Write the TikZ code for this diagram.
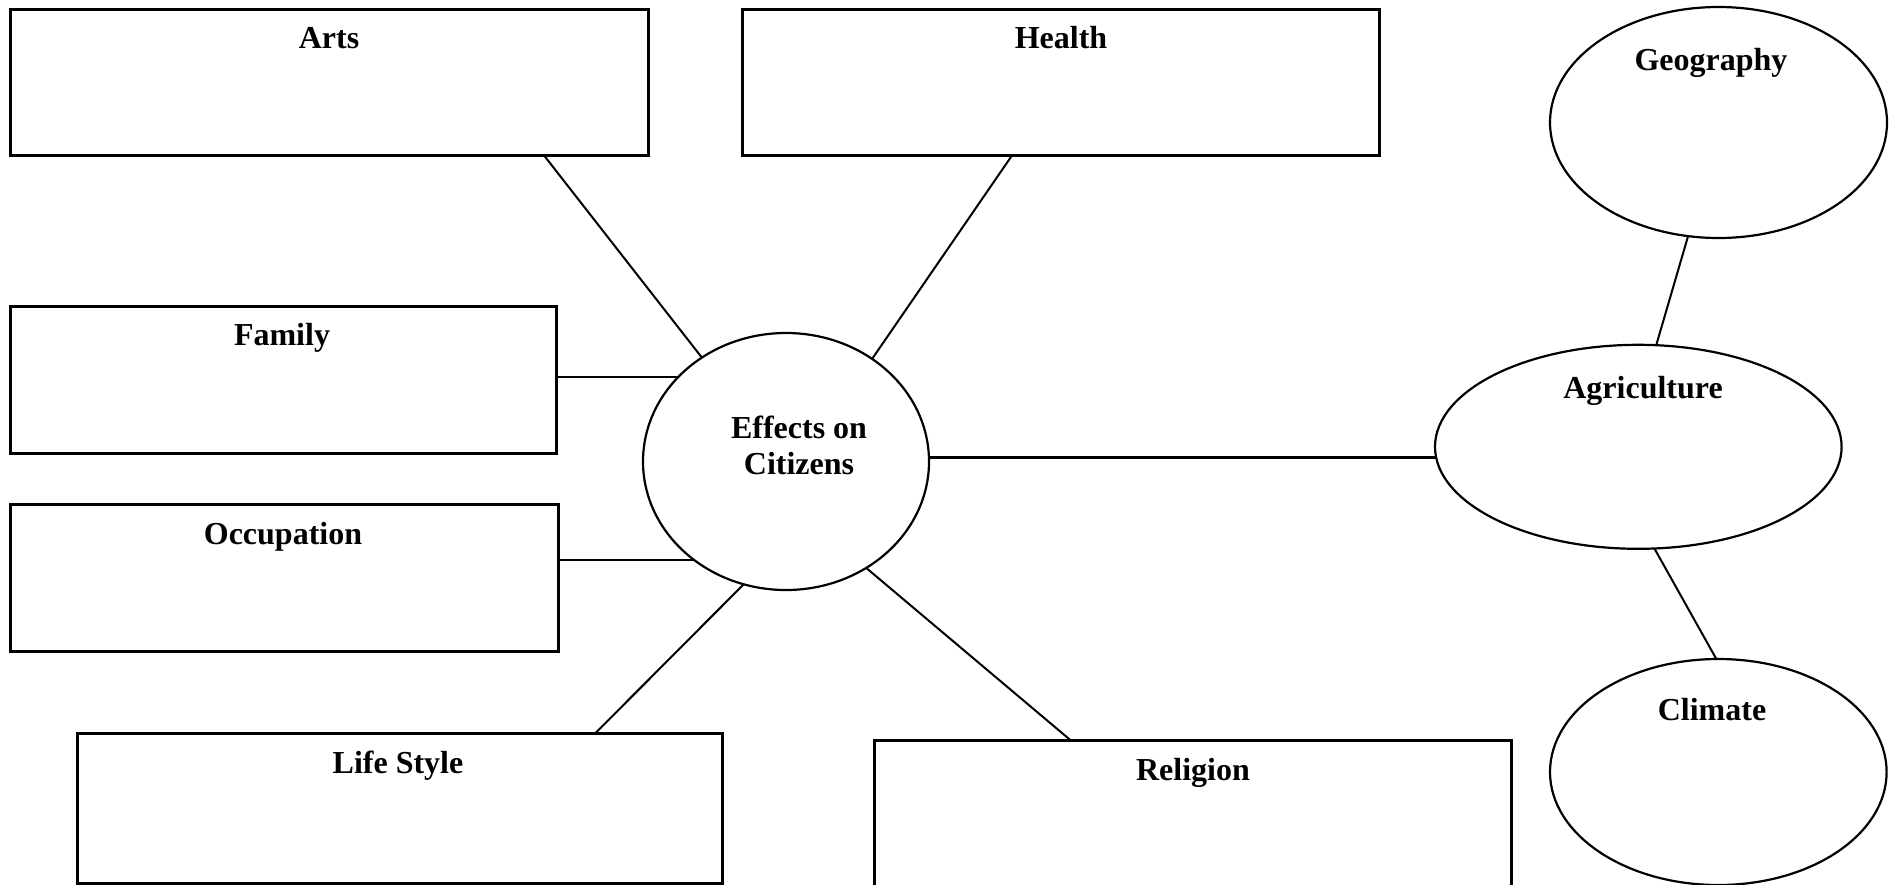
\documentclass[tikz,border=0pt]{standalone}
\usepackage{fontspec}
\setmainfont{Liberation Serif}
\usetikzlibrary{shapes.geometric}
\begin{document}
\begin{tikzpicture}[x=1pt,y=-1pt,
  box/.style={draw, line width=3pt, rectangle, inner sep=0pt, outer sep=0pt},
  oval/.style={draw, line width=2.2pt, ellipse, inner sep=0pt, outer sep=0pt},
  link/.style={line width=2pt},
  hlink/.style={line width=2.6pt},
  tag/.style={font=\fontsize{32}{36}\selectfont\bfseries, anchor=base, inner sep=0pt, align=center}]
\useasboundingbox (0,0) rectangle (1894,884);
\fill[white] (0,0) rectangle (1894,884);

% rectangular topic boxes
\node[box, minimum width=638pt, minimum height=146pt] (arts) at (329,82) {};
\node[box, minimum width=637pt, minimum height=146pt] (health) at (1060.5,82) {};
\node[box, minimum width=546pt, minimum height=147pt] (family) at (283,379.5) {};
\node[box, minimum width=548pt, minimum height=147pt] (occ) at (284,577.5) {};
\node[box, minimum width=645pt, minimum height=150pt] (life) at (399.5,808) {};
\node[box, minimum width=637pt, minimum height=155pt] (religion) at (1192.5,817.5) {};

% oval topics
\node[oval, minimum width=286pt, minimum height=257pt] (effects) at (786,461.5) {};
\node[oval, minimum width=337pt, minimum height=231pt] (geo) at (1718.5,122.5) {};
\node[oval, minimum width=406.6pt, minimum height=204pt] (agri) at (1638.3,446.8) {};
\node[oval, minimum width=336.6pt, minimum height=226pt] (climate) at (1718.3,772) {};

% labels
\node[tag] (artsT) at (329,48) {Arts};
\node[tag] (healthT) at (1061,48) {Health};
\node[tag] (familyT) at (282,345) {Family};
\node[tag] (occT) at (283,544) {Occupation};
\node[tag] (lifeT) at (398,773.3) {Life Style};
\node[tag] (religionT) at (1193,780.3) {Religion};
\node[tag] (effectsT) at (799,474) {Effects on\\Citizens};
\node[tag] (geoT) at (1711,70.7) {Geography};
\node[tag] (agriT) at (1643,398.6) {Agriculture};
\node[tag] (climateT) at (1712,720) {Climate};

% connectors
\draw[link] ([xshift=214.7pt]arts.south) -- (effects.129.1);
\draw[link] ([xshift=-48.2pt]health.south) -- (effects.50.5);
\draw[hlink] (effects.142.5) -- (effects.142.5 -| family.east);
\draw[hlink] (effects.227.5) -- (effects.227.5 -| occ.east);
\draw[link] (effects.251) -- ([xshift=196pt]life.north);
\draw[link] (effects.307.5) -- ([xshift=-122.2pt]religion.north);
\draw[hlink] (agri.183.75) -- (agri.183.75 -| effects.east);
\draw[link] (geo.255.5) -- (agri.80.7);
\draw[link] (agri.279.3) -- (climate.91.7);
\end{tikzpicture}
\end{document}
